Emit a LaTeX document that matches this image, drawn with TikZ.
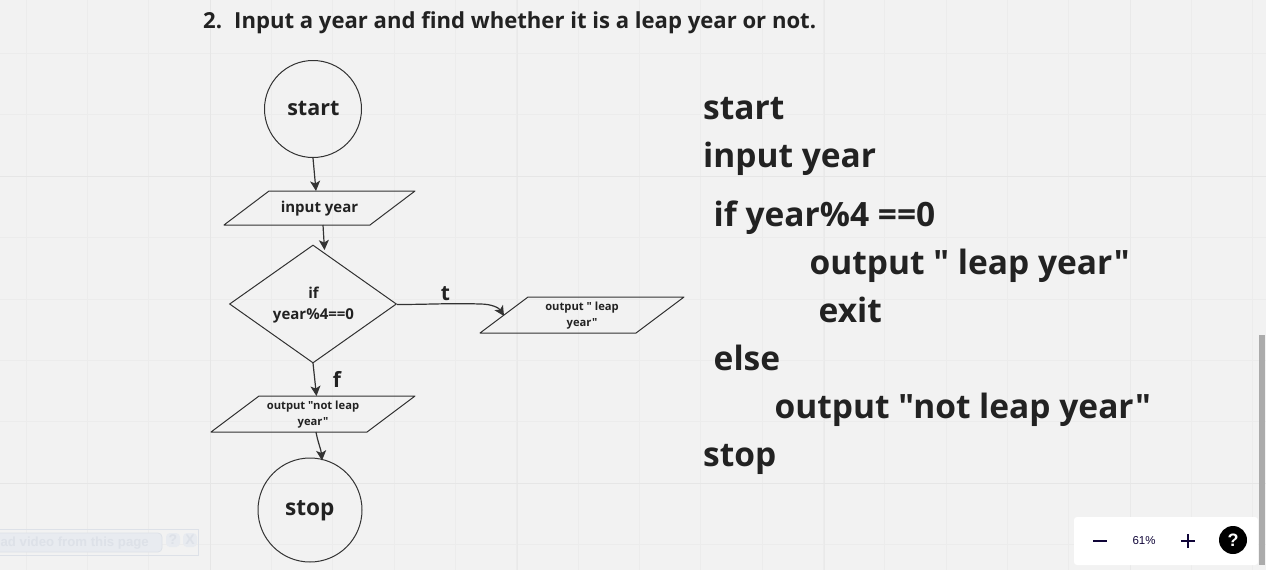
\documentclass[tikz,border=0pt]{standalone}
\usepackage{fontspec}
\setmainfont{Open Sans}
\newfontfamily\osf{Open Sans}
\newfontfamily\uifont{Liberation Sans}
\AtBeginDocument{\osf}
\usetikzlibrary{shapes.geometric,arrows.meta}
\definecolor{bg}{HTML}{F2F2F2}
\definecolor{gridc}{HTML}{ECECEC}
\definecolor{gridd}{HTML}{E6E6E6}
\definecolor{gridm}{HTML}{E9E9E9}
\definecolor{ink}{HTML}{222222}
\definecolor{linec}{HTML}{333333}
\definecolor{navyc}{HTML}{100538}
\definecolor{ghost}{HTML}{DDE1E8}
\definecolor{ghostb}{HTML}{E8EBF0}
\tikzset{
 x=1pt,y=-1pt,
 shapeline/.style={draw=linec,line width=1pt},
 round/.style={shape=circle,shapeline,inner sep=0pt},
 roundtxt/.style={inner sep=0pt,text=ink},
 arr/.style={draw=linec,line width=1.2pt,-{Stealth[length=10pt,width=10pt,inset=2.5pt]}},
 small/.style={text=ink,font=\osf\bfseries\fontsize{15}{20}\selectfont,align=center,inner sep=0pt},
 tiny/.style={text=ink,font=\osf\bfseries\fontsize{11.2}{16}\selectfont,align=center,inner sep=0pt},
 code/.style={anchor=base west,inner sep=0pt,text=ink,font=\osf\bfseries\fontsize{33.5}{40}\selectfont},
 lab/.style={anchor=base,inner sep=0pt,text=ink,font=\osf\bfseries\fontsize{21}{24}\selectfont},
 head/.style={anchor=base west,inner sep=0pt,text=ink,font=\osf\bfseries\fontsize{22.1}{26}\selectfont},
}
\begin{document}
\begin{tikzpicture}
\useasboundingbox (0,0) rectangle (1266,570);
\fill[bg] (0,0) rectangle (1266,570);
% grid
\foreach \i in {0,...,20}{\draw[gridc,line width=.8pt] ({26+61.33*\i},0) -- ({26+61.33*\i},570);}
\foreach \i in {0,...,9}{\draw[gridc,line width=.8pt] (0,{-8+61.4*\i}) -- (1266,{-8+61.4*\i});}
\foreach \xx in {517,824,1130}{\draw[gridm,line width=.9pt] (\xx,0) -- (\xx,570);}
\draw[gridd,line width=1pt] (210,0) -- (210,570);
\foreach \yy in {176,483}{\draw[gridd,line width=1pt] (0,\yy) -- (1266,\yy);}
% title
\node[head] (title) at (203,28) {2.};
\node[head] (titleb) at (234,28) {Input a year and find whether it is a leap year or not.};
% flowchart shapes
\node[round,minimum size=97pt] (start) at (313,109) {};
\node[roundtxt,font=\osf\bfseries\fontsize{21.5}{26}\selectfont] (starttxt) at (313.3,108) {start};
\node[round,minimum size=104pt] (stop) at (310,510) {};
\node[roundtxt,font=\osf\bfseries\fontsize{22.6}{26}\selectfont] (stoptxt) at (309.7,511) {stop};
\node[shape=diamond,shapeline,inner sep=0pt,aspect=1.415,minimum width=167pt,minimum height=118pt] (dec) at (313,304) {};
\node[small,font=\osf\bfseries\fontsize{15}{21}\selectfont] (dectxt) at (313.5,305) {if\\year\%4==0};
\draw[shapeline,line join=round] (269,191) -- (415,191) -- (370,225) -- (224,225) -- cycle;
\node[small] (inp) at (319.5,208.5) {input year};
\draw[shapeline,line join=round] (528,297) -- (684,297) -- (636,333) -- (480,333) -- cycle;
\node[tiny] (leap) at (582,315.5) {output " leap\\year"};
\draw[shapeline,line join=round] (259,396) -- (415,396) -- (367,432) -- (211,432) -- cycle;
\node[tiny] (notleap) at (313,414.5) {output "not leap\\year"};
% connector ends
\coordinate (inpTop) at (316,191);
\coordinate (inpBot) at (323,225);
\coordinate (decTop) at (324.5,250);
\coordinate (decBot) at (313,363);
\coordinate (nlTop) at (316.5,396);
\coordinate (nlBot) at (316,432);
\coordinate (stopTop) at (322,460.5);
\coordinate (leapIn) at (504,316);
\coordinate (decRight) at (397,304.5);
\coordinate (startBot) at (313,158);
\draw[arr] (startBot) -- (inpTop);
\draw[arr] (inpBot) -- (decTop);
\draw[arr] (decBot) -- (nlTop);
\draw[arr] (nlBot) .. controls (318,443) and (321,449) .. (stopTop);
\draw[arr] (decRight) .. controls (430,304.5) and (450,303) .. (480,304) .. controls (492,304) and (499,308) .. (leapIn);
\node[lab] (t) at (445.5,300) {t};
\node[lab] (f) at (337,387.5) {f};
% right text
\node[code] (c1) at (703,119) {start};
\node[code] (c2) at (703,167) {input year};
\node[code] (c3) at (713.5,226) {if year\%4 ==0};
\node[code] (c4) at (809.5,274) {output " leap year"};
\node[code] (c5) at (818.5,322) {exit};
\node[code] (c6) at (713.5,370) {else};
\node[code] (c7) at (774.5,418) {output "not leap year"};
\node[code] (c8) at (703,466) {stop};
% faded browser widget
\fill[ghostb,rounded corners=4pt] (-10,533) rectangle (162,552);
\draw[ghost,line width=.7pt,rounded corners=4pt] (-10,533) -- (162,533) -- (162,552) -- (-10,552);
\draw[ghost,line width=.7pt] (0,529) -- (198.5,529) -- (198.5,555) -- (0,555);
\fill[ghostb,rounded corners=4pt] (166,533) rectangle (180,547);
\fill[ghostb,rounded corners=4pt] (183,533) rectangle (197,547);
\node[anchor=base east,inner sep=0pt,text=ghost,font=\uifont\bfseries\fontsize{13.2}{16}\selectfont] (w1) at (149,546) {ad video from this page};
\node[inner sep=0pt,text=ghost,font=\uifont\bfseries\fontsize{14}{16}\selectfont] (w2) at (173,540) {?};
\node[inner sep=0pt,text=ghost,font=\uifont\bfseries\fontsize{14}{16}\selectfont] (w3) at (190,540) {X};
% zoom panel
\fill[white,rounded corners=3pt] (1074,517) rectangle (1258,565);
\draw[navyc,line width=1.7pt] (1093,541) -- (1107,541);
\draw[navyc,line width=1.7pt] (1181,541) -- (1195,541) (1188,534) -- (1188,548);
\node[inner sep=0pt,text=navyc,font=\uifont\fontsize{11.5}{14}\selectfont] (pct) at (1144,541) {61\%};
\node[shape=circle,fill=black,minimum size=28pt,inner sep=0pt,text=white,font=\uifont\bfseries\fontsize{18}{20}\selectfont] (help) at (1233,540) {?};
% scrollbar
\fill[black!33] (1259,335) rectangle (1265,565);
\end{tikzpicture}
\end{document}
